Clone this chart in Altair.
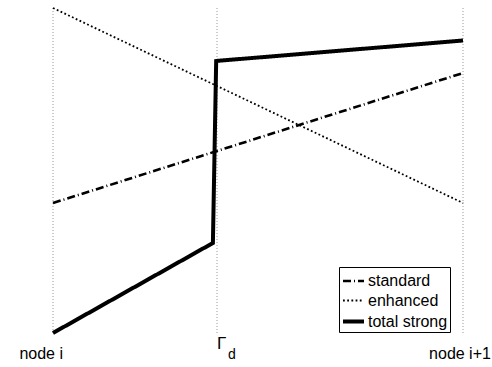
import altair as alt
import pandas as pd

# Profile values between two nodes (x: 0 = node i, 1 = node i+1)
standard_x = [0.0, 1.0]
standard_y = [0.40, 0.80]

enhanced_x = [0.0, 1.0]
enhanced_y = [1.00, 0.40]

total_x = [0.0, 0.39, 0.398, 1.0]
total_y = [0.0, 0.277, 0.837, 0.90]

series_names = ["standard", "enhanced", "total strong"]

# Vertical reference positions and their labels
grid_x = [0.0, 0.4, 1.0]
tick_labels = ["node i", "Γ", "node i+1"]

rows = []
for name, xs, ys in [
    ("standard", standard_x, standard_y),
    ("enhanced", enhanced_x, enhanced_y),
    ("total strong", total_x, total_y),
]:
    for i, (xv, yv) in enumerate(zip(xs, ys)):
        rows.append({"series": name, "x": xv, "y": yv, "order": i})
lines_df = pd.DataFrame(rows)

grid_df = pd.DataFrame({"x": grid_x, "label": tick_labels})

W, H = 410, 325
FONT = "Liberation Sans"

xscale = alt.Scale(domain=[0, 1], nice=False, zero=False)
yscale = alt.Scale(domain=[0, 1], nice=False, zero=False)

legend = alt.Legend(
    title=None,
    orient="none",
    legendX=286,
    legendY=259,
    symbolType="stroke",
    symbolSize=441,
    symbolStrokeColor="black",
    labelFont=FONT,
    labelFontSize=16,
    labelColor="black",
    labelOffset=2,
    rowPadding=0,
    padding=2,
    fillColor="white",
    strokeColor="black",
    cornerRadius=0,
)

grid = alt.Chart(grid_df).mark_rule(
    color="#9a9a9a", strokeWidth=1, strokeDash=[1, 2]
).encode(x=alt.X("x:Q", scale=xscale, axis=None))

lines = alt.Chart(lines_df).mark_line(color="black", strokeJoin="miter").encode(
    x=alt.X("x:Q", scale=xscale, axis=None),
    y=alt.Y("y:Q", scale=yscale, axis=None),
    order="order:Q",
    detail="series:N",
    strokeDash=alt.StrokeDash(
        "series:O",
        scale=alt.Scale(domain=series_names, range=[[8, 3, 1, 3], [1.8, 2.4], [1, 0]]),
        legend=legend,
    ),
    strokeWidth=alt.StrokeWidth(
        "series:O",
        scale=alt.Scale(type="ordinal", domain=series_names, range=[2.6, 1.8, 4]),
        legend=legend,
    ),
)

label_base = alt.Chart(grid_df)

node_i = label_base.transform_filter(alt.datum.label == "node i").mark_text(
    font=FONT, fontSize=16, align="right", baseline="alphabetic", dx=10, dy=26, color="black"
).encode(x=alt.X("x:Q", scale=xscale), y=alt.value(H), text="label:N")

node_next = label_base.transform_filter(alt.datum.label == "node i+1").mark_text(
    font=FONT, fontSize=16, align="center", baseline="alphabetic", dx=-3, dy=26, color="black"
).encode(x=alt.X("x:Q", scale=xscale), y=alt.value(H), text="label:N")

gamma = label_base.transform_filter(alt.datum.label == "Γ").mark_text(
    font=FONT, fontSize=17, align="left", baseline="alphabetic", dx=0, dy=16, color="black"
).encode(x=alt.X("x:Q", scale=xscale), y=alt.value(H), text="label:N")

gamma_sub = label_base.transform_filter(alt.datum.label == "Γ").mark_text(
    font=FONT, fontSize=14, align="left", baseline="alphabetic", dx=11, dy=26, color="black",
    text="d",
).encode(x=alt.X("x:Q", scale=xscale), y=alt.value(H))

chart = alt.layer(grid, lines, node_i, node_next, gamma, gamma_sub).properties(
    width=W,
    height=H,
    autosize=alt.AutoSizeParams(type="none"),
    padding={"left": 53, "top": 8, "right": 29, "bottom": 34},
    background="white",
).configure_view(stroke=None)

chart.save("out.html", embed_options={"renderer": "svg", "actions": False})
